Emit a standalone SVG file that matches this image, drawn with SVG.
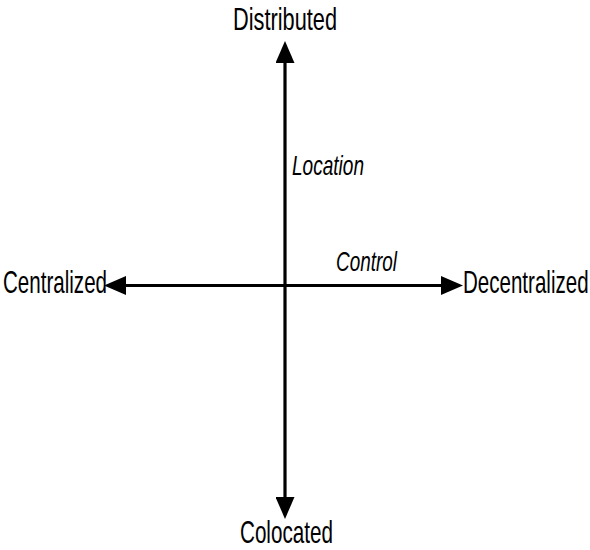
<svg xmlns="http://www.w3.org/2000/svg" width="590" height="550" viewBox="0 0 590 550">
<style>
.lbl{font-family:"Liberation Sans",Arial,sans-serif;font-size:32px;fill:#000}
.ax{font-family:"Liberation Sans",Arial,sans-serif;font-size:27px;font-style:italic;fill:#000}
.line{stroke:#000;stroke-width:3.2;fill:none}
</style>
<defs>
<marker id="ah" viewBox="0 0 22 19" refX="0" refY="9.5" markerWidth="22" markerHeight="19" markerUnits="userSpaceOnUse" orient="auto">
<path d="M0,0 L22,9.5 L0,19 Z" fill="#000"/>
</marker>
</defs>
<rect width="590" height="550" fill="#fff"/>
<g id="connectors">
<line class="line" x1="285" y1="285" x2="285" y2="63" marker-end="url(#ah)"/>
<line class="line" x1="285" y1="285" x2="285" y2="497" marker-end="url(#ah)"/>
<line class="line" x1="285" y1="285.5" x2="126" y2="285.5" marker-end="url(#ah)"/>
<line class="line" x1="285" y1="285.5" x2="441" y2="285.5" marker-end="url(#ah)"/>
</g>
<g id="distributed"><text class="lbl" transform="translate(233,30) scale(0.68,1)">Distributed</text></g>
<g id="colocated"><text class="lbl" transform="translate(240,543) scale(0.645,1)">Colocated</text></g>
<g id="centralized"><text class="lbl" transform="translate(3,293) scale(0.643,1)">Centralized</text></g>
<g id="decentralized"><text class="lbl" transform="translate(463,293) scale(0.642,1)">Decentralized</text></g>
<g id="location"><text class="ax" transform="translate(292,175) scale(0.706,1)">Location</text></g>
<g id="control"><text class="ax" transform="translate(336,271) scale(0.7,1)">Control</text></g>
</svg>
